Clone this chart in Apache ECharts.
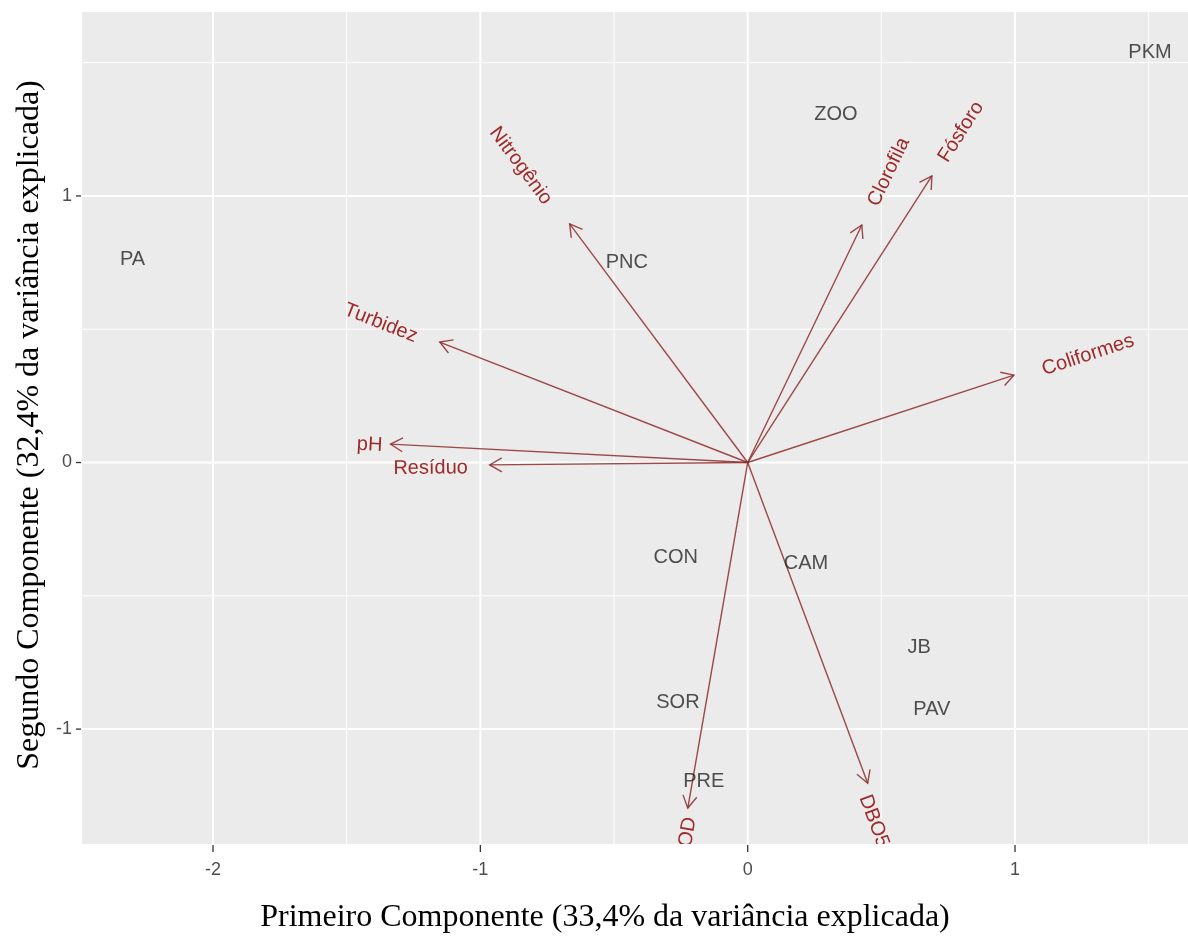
<!DOCTYPE html>
<html>
<head>
<meta charset="utf-8">
<script src="https://cdn.jsdelivr.net/npm/echarts@6/dist/echarts.min.js"></script>
<style>html,body{margin:0;padding:0;background:#fff}#c{width:1188px;height:940px}</style>
</head>
<body>
<div id="c"></div>
<script>
// ---- data ----
const siteNames = ['PA','PKM','ZOO','PNC','CON','CAM','JB','PAV','SOR','PRE'];
const siteX = [-2.301, 1.505, 0.330, -0.452, -0.269, 0.218, 0.641, 0.689, -0.261, -0.164];
const siteY = [0.760, 1.537, 1.304, 0.749, -0.355, -0.377, -0.692, -0.925, -0.902, -1.195];

const varNames = ['Nitrogênio','Clorofila','Fósforo','Turbidez','Coliformes','pH','Resíduo','OD','DBO5'];
const varX = [-0.666, 0.427, 0.689, -1.152, 0.996, -1.336, -0.965, -0.224, 0.449];
const varY = [0.895, 0.891, 1.075, 0.452, 0.328, 0.069, -0.009, -1.296, -1.203];
const varLabelX = [-0.849, 0.528, 0.798, -1.373, 1.273, -1.414, -1.186, -0.224, 0.472];
const varLabelY = [1.113, 1.090, 1.240, 0.523, 0.403, 0.066, -0.021, -1.386, -1.345];

const xTicks = [-2, -1, 0, 1];
const yTicks = [-1, 0, 1];
const xMajor = [-2, -1, 0, 1];
const xMinor = [-1.5, -0.5, 0.5, 1.5];
const yMajor = [-1, 0, 1];
const yMinor = [-0.5, 0.5, 1.5];
const xRange = [-2.49, 1.647];
const yRange = [-1.431, 1.690];

const xTitle = 'Primeiro Componente (33,4% da variância explicada)';
const yTitle = 'Segundo Componente (32,4% da variância explicada)';

// ---- chart ----
const chart = echarts.init(document.getElementById('c'), null, {renderer: 'canvas'});
const arrowColor = '#8e2b2b';
const labelColor = '#9e2a2a';

const gridData = [];
xMajor.forEach(v => gridData.push(['x', v, 1]));
xMinor.forEach(v => gridData.push(['x', v, 0]));
yMajor.forEach(v => gridData.push(['y', v, 1]));
yMinor.forEach(v => gridData.push(['y', v, 0]));

const tickData = [];
xTicks.forEach(v => tickData.push(['x', v]));
yTicks.forEach(v => tickData.push(['y', v]));

function textAngle(x, y) {
  let a = Math.atan2(y, x) * 180 / Math.PI;
  if (a > 90) a -= 180;
  if (a < -90) a += 180;
  return a;
}

const option = {
  animation: false,
  backgroundColor: '#ffffff',
  grid: {left: 82, right: 0, top: 12, bottom: 96, show: true, backgroundColor: '#EBEBEB', borderWidth: 0},
  xAxis: {
    type: 'value', min: xRange[0], max: xRange[1],
    axisLine: {show: false},
    splitLine: {show: false},
    axisTick: {show: false},
    axisLabel: {customValues: xTicks, color: '#4d4d4d', fontSize: 18, fontFamily: 'Liberation Sans, Arial', margin: 17}
  },
  yAxis: {
    type: 'value', min: yRange[0], max: yRange[1],
    axisLine: {show: false},
    splitLine: {show: false},
    axisTick: {show: false},
    axisLabel: {customValues: yTicks, color: '#4d4d4d', fontSize: 18, fontFamily: 'Liberation Sans, Arial', margin: 10}
  },
  graphic: [
    {type: 'text', x: 605, y: 918, style: {text: xTitle, fill: '#000', fontSize: 32, fontFamily: 'Liberation Serif, Times New Roman, serif', align: 'center', verticalAlign: 'middle'}},
    {type: 'text', x: 30, y: 425, rotation: Math.PI / 2, style: {text: yTitle, fill: '#000', fontSize: 32, fontFamily: 'Liberation Serif, Times New Roman, serif', align: 'center', verticalAlign: 'middle'}}
  ],
  series: [
    {
      type: 'custom', silent: true, clip: true, z: 1,
      data: gridData,
      renderItem: function (params, api) {
        const axis = gridData[params.dataIndex][0];
        const v = gridData[params.dataIndex][1];
        const major = gridData[params.dataIndex][2];
        let p1, p2;
        if (axis === 'x') { p1 = api.coord([v, yRange[0]]); p2 = api.coord([v, yRange[1]]); }
        else { p1 = api.coord([xRange[0], v]); p2 = api.coord([xRange[1], v]); }
        return {type: 'line', shape: {x1: p1[0], y1: p1[1], x2: p2[0], y2: p2[1]},
          style: {stroke: '#ffffff', lineWidth: major ? 2 : 1}};
      }
    },
    {
      type: 'custom', silent: true, clip: false, z: 1,
      data: tickData,
      renderItem: function (params, api) {
        const axis = tickData[params.dataIndex][0];
        const v = tickData[params.dataIndex][1];
        let p;
        if (axis === 'x') {
          p = api.coord([v, yRange[0]]);
          return {type: 'line', shape: {x1: p[0], y1: p[1] + 1, x2: p[0], y2: p[1] + 8}, style: {stroke: '#333', lineWidth: 1.3}};
        }
        p = api.coord([xRange[0], v]);
        return {type: 'line', shape: {x1: p[0] - 6, y1: p[1], x2: p[0] - 1, y2: p[1]}, style: {stroke: '#333', lineWidth: 1.3}};
      }
    },
    {
      type: 'custom', silent: true, clip: true, z: 3,
      data: varX.map((x, i) => [x, varY[i]]),
      renderItem: function (params, api) {
        const o = api.coord([0, 0]);
        const t = api.coord([api.value(0), api.value(1)]);
        const ang = Math.atan2(t[1] - o[1], t[0] - o[0]);
        const L = 14, w = Math.PI / 6;
        const a1 = [t[0] - L * Math.cos(ang - w), t[1] - L * Math.sin(ang - w)];
        const a2 = [t[0] - L * Math.cos(ang + w), t[1] - L * Math.sin(ang + w)];
        return {type: 'group', children: [
          {type: 'line', shape: {x1: o[0], y1: o[1], x2: t[0], y2: t[1]}, style: {stroke: arrowColor, lineWidth: 1.4, opacity: 0.85}},
          {type: 'polyline', shape: {points: [a1, t, a2]}, style: {stroke: arrowColor, lineWidth: 1.4, fill: null, opacity: 0.85}}
        ]};
      }
    },
    {
      type: 'custom', silent: true, clip: true, z: 4,
      data: varLabelX.map((x, i) => [x, varLabelY[i]]),
      renderItem: function (params, api) {
        const i = params.dataIndex;
        const p = api.coord([api.value(0), api.value(1)]);
        const a = textAngle(varX[i], varY[i]);
        return {type: 'text', x: p[0], y: p[1], rotation: a * Math.PI / 180,
          style: {text: varNames[i], fill: labelColor, fontSize: 20, fontFamily: 'Liberation Sans, Arial', align: 'center', verticalAlign: 'middle'}};
      }
    },
    {
      type: 'scatter', z: 5, symbolSize: 0, silent: true,
      data: siteNames.map((n, i) => ({name: n, value: [siteX[i], siteY[i]]})),
      label: {show: true, position: 'inside', formatter: '{b}', color: '#262626', fontSize: 20, fontFamily: 'Liberation Sans, Arial'}
    }
  ]
};
chart.setOption(option);
</script>
</body>
</html>
